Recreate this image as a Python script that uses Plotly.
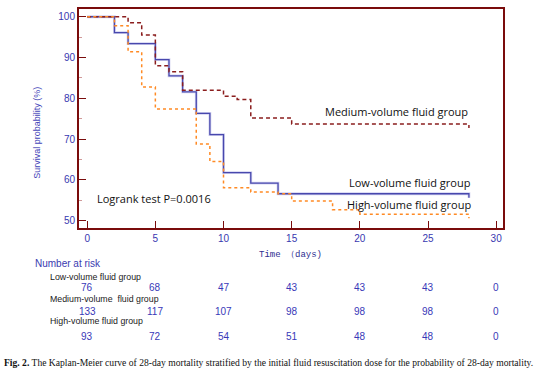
import plotly.graph_objects as go

# ---- data ----
low_t = [0, 2, 3, 5, 6, 7, 8, 9, 10, 12, 14, 28, 28]
low_s = [100, 96.1, 93.4, 89.5, 85.5, 81.6, 76.3, 71.1, 61.8, 59.2, 56.6, 56.6, 55.6]

med_t = [0, 3, 4, 5, 6, 7, 10, 11, 12, 15, 28, 28]
med_s = [100, 98.5, 95.5, 88.0, 86.5, 82.0, 80.5, 79.7, 75.2, 73.7, 73.7, 72.7]

high_t = [0, 2, 3, 4, 5, 8, 9, 10, 12, 14, 15, 18, 20, 28, 28]
high_s = [100, 97.8, 91.4, 82.8, 77.4, 68.8, 64.5, 58.1, 57.0, 56.6, 54.8, 52.7, 51.6, 51.6, 50.6]

risk_times = [0, 5, 10, 15, 20, 25, 30]
risk_low = [76, 68, 47, 43, 43, 43, 0]
risk_med = [133, 117, 107, 98, 98, 98, 0]
risk_high = [93, 72, 54, 51, 48, 48, 0]

group_names = ["Low-volume fluid group", "Medium-volume  fluid group", "High-volume fluid group"]
x_ticks = [0, 5, 10, 15, 20, 25, 30]
y_ticks = [50, 60, 70, 80, 90, 100]

# ---- layout geometry (pixels) ----
W, H = 540, 372
L, R, T, B = 79, 37, 7, 144
ph = H - T - B
pw = W - L - R


def py(Y):
    return (H - B - Y) / ph


def px(X):
    return (X - L) / pw


fig = go.Figure()
# blue halo
fig.add_trace(go.Scatter(x=low_t, y=low_s, mode="lines", line_shape="hv",
                         line=dict(color="rgba(130,130,215,0.35)", width=2.8),
                         hoverinfo="skip", showlegend=False))
fig.add_trace(go.Scatter(x=low_t, y=low_s, mode="lines", line_shape="hv",
                         line=dict(color="#4848ad", width=1.3), name="Low"))
fig.add_trace(go.Scatter(x=med_t, y=med_s, mode="lines", line_shape="hv",
                         line=dict(color="#8b1e1e", width=1.5, dash="4px,3px"), name="Medium"))
fig.add_trace(go.Scatter(x=high_t, y=high_s, mode="lines", line_shape="hv",
                         line=dict(color="#ff8a24", width=1.5, dash="dot"), name="High"))

txt_font = dict(family="Open Sans, Noto Sans, sans-serif", size=11, color="#111111")
ann = []
ann.append(dict(x=28.05, y=py(110), xref="x", yref="paper", text="Medium-volume fluid group",
                showarrow=False, xanchor="right", yanchor="middle", font=txt_font))
ann.append(dict(x=28.3, y=py(182), xref="x", yref="paper", text="Low-volume fluid group",
                showarrow=False, xanchor="right", yanchor="middle", font=txt_font))
ann.append(dict(x=28.3, y=py(204), xref="x", yref="paper", text="High-volume fluid group",
                showarrow=False, xanchor="right", yanchor="middle", font=txt_font))
ann.append(dict(x=px(95), y=py(198), xref="paper", yref="paper", text="Logrank test P=0.0016",
                showarrow=False, xanchor="left", yanchor="middle", font=txt_font))

# axis titles
ann.append(dict(x=px(37), y=py(132), xref="paper", yref="paper", text="Survival probability (%)",
                textangle=-90, showarrow=False, xanchor="center", yanchor="middle",
                font=dict(family="Liberation Sans, Arial, sans-serif", size=9, color="#4444b8")))
ann.append(dict(x=px(290), y=py(255), xref="paper", yref="paper", text="Time （days)",
                showarrow=False, xanchor="center", yanchor="middle",
                font=dict(family="Liberation Mono, monospace", size=9, color="#2e2e90")))

# number at risk table
ann.append(dict(x=px(33), y=py(264), xref="paper", yref="paper", text="Number at risk",
                showarrow=False, xanchor="left", yanchor="middle",
                font=dict(family="Liberation Sans, Arial, sans-serif", size=10, color="#3a3ab0")))
label_y = [277, 300, 322]
num_y = [288, 312, 337]
label_font = dict(family="Liberation Sans, Arial, sans-serif", size=8.8, color="#1a1a1a")
num_font = dict(family="Liberation Sans, Arial, sans-serif", size=10, color="#3838b8")
for name, ly, ny, vals in zip(group_names, label_y, num_y, [risk_low, risk_med, risk_high]):
    ann.append(dict(x=px(48), y=py(ly), xref="paper", yref="paper", text=name,
                    showarrow=False, xanchor="left", yanchor="middle", font=label_font))
    for t, v in zip(risk_times, vals):
        ann.append(dict(x=t, y=py(ny), xref="x", yref="paper", text=str(v),
                        showarrow=False, xanchor="center", yanchor="middle", font=num_font))

# caption
ann.append(dict(x=px(2), y=py(364), xref="paper", yref="paper",
                text="<b>Fig. 2.</b> The Kaplan-Meier curve of 28-day mortality stratified by the initial fluid resuscitation dose for the probability of 28-day mortality.",
                showarrow=False, xanchor="left", yanchor="middle",
                font=dict(family="Liberation Serif, serif", size=9.6, color="#111111")))

axis_col = "#7a0c0c"
fig.update_layout(
    width=W, height=H,
    margin=dict(l=L, r=R, t=T, b=B),
    plot_bgcolor="white", paper_bgcolor="white",
    showlegend=False,
    annotations=ann,
    xaxis=dict(range=[-0.6, 30.5], tickvals=x_ticks, ticks="inside", ticklen=7, tickwidth=1.2,
               tickcolor=axis_col, showline=True, mirror=True, linecolor=axis_col, linewidth=2,
               showgrid=False, zeroline=False,
               tickfont=dict(family="Liberation Sans, Arial, sans-serif", size=10, color="#3838b0")),
    yaxis=dict(range=[48.2, 101.9], tickvals=y_ticks, ticks="inside", ticklen=7, tickwidth=1.2,
               tickcolor=axis_col, showline=True, mirror=True, linecolor=axis_col, linewidth=2,
               showgrid=False, zeroline=False,
               minor=dict(dtick=5, tick0=0, ticks="inside", ticklen=3, tickcolor="#d09a9a", tickwidth=1),
               tickfont=dict(family="Liberation Sans, Arial, sans-serif", size=10, color="#3838b0")),
)

fig.write_html("out.html", config={"displayModeBar": False},
               post_script="document.body.style.margin='0';document.body.style.overflow='hidden';")
